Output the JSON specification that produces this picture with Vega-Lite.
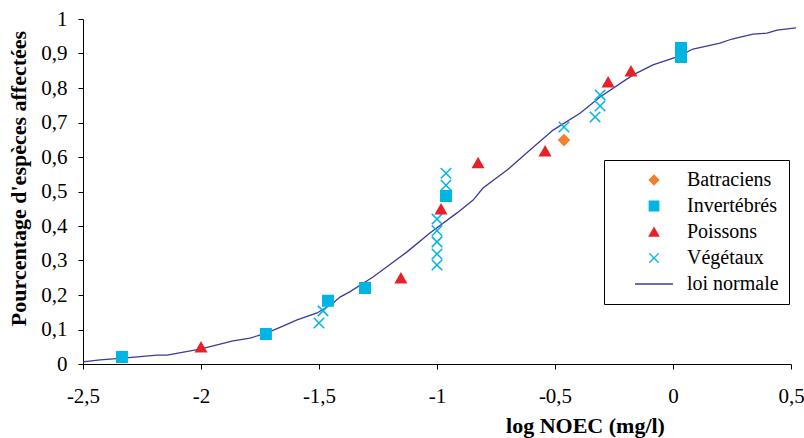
{
  "$schema": "https://vega.github.io/schema/vega-lite/v6.json",
  "width": 708,
  "height": 345,
  "autosize": "none",
  "padding": {"left": 83, "top": 19, "right": 13, "bottom": 74},
  "background": "white",
  "config": {
    "view": {"stroke": null},
    "font": "Liberation Serif",
    "axis": {
      "grid": false,
      "domainColor": "black",
      "tickColor": "black",
      "domainWidth": 1,
      "tickWidth": 1,
      "tickSize": 5,
      "labelFont": "Liberation Serif",
      "labelFontSize": 21,
      "labelColor": "black",
      "titleFont": "Liberation Serif",
      "titleFontSize": 22,
      "titleFontWeight": "bold",
      "titleColor": "black"
    },
    "legend": {
      "labelFont": "Liberation Serif",
      "labelFontSize": 20,
      "labelColor": "black"
    }
  },
  "datasets": {
    "points": [
      {"x": -2.335, "y": 0.020, "serie": "Invertébrés"},
      {"x": -2.0, "y": 0.049, "serie": "Poissons"},
      {"x": -1.725, "y": 0.087, "serie": "Invertébrés"},
      {"x": -1.5, "y": 0.119, "serie": "Végétaux"},
      {"x": -1.483, "y": 0.154, "serie": "Végétaux"},
      {"x": -1.462, "y": 0.183, "serie": "Invertébrés"},
      {"x": -1.305, "y": 0.220, "serie": "Invertébrés"},
      {"x": -1.153, "y": 0.249, "serie": "Poissons"},
      {"x": -1.0, "y": 0.287, "serie": "Végétaux"},
      {"x": -1.0, "y": 0.319, "serie": "Végétaux"},
      {"x": -1.0, "y": 0.354, "serie": "Végétaux"},
      {"x": -1.0, "y": 0.386, "serie": "Végétaux"},
      {"x": -1.0, "y": 0.420, "serie": "Végétaux"},
      {"x": -0.983, "y": 0.449, "serie": "Poissons"},
      {"x": -0.962, "y": 0.487, "serie": "Invertébrés"},
      {"x": -0.962, "y": 0.518, "serie": "Végétaux"},
      {"x": -0.962, "y": 0.553, "serie": "Végétaux"},
      {"x": -0.826, "y": 0.583, "serie": "Poissons"},
      {"x": -0.542, "y": 0.617, "serie": "Poissons"},
      {"x": -0.462, "y": 0.649, "serie": "Batraciens"},
      {"x": -0.462, "y": 0.687, "serie": "Végétaux"},
      {"x": -0.33, "y": 0.716, "serie": "Végétaux"},
      {"x": -0.309, "y": 0.748, "serie": "Végétaux"},
      {"x": -0.309, "y": 0.780, "serie": "Végétaux"},
      {"x": -0.275, "y": 0.817, "serie": "Poissons"},
      {"x": -0.178, "y": 0.849, "serie": "Poissons"},
      {"x": 0.034, "y": 0.890, "serie": "Invertébrés"},
      {"x": 0.034, "y": 0.916, "serie": "Invertébrés"}
    ],
    "curve": [
      {"x": -2.5, "y": 0.006},
      {"x": -2.428, "y": 0.012},
      {"x": -2.33, "y": 0.017},
      {"x": -2.186, "y": 0.026},
      {"x": -2.144, "y": 0.026},
      {"x": -2.004, "y": 0.043},
      {"x": -1.864, "y": 0.067},
      {"x": -1.792, "y": 0.075},
      {"x": -1.72, "y": 0.09},
      {"x": -1.653, "y": 0.11},
      {"x": -1.593, "y": 0.128},
      {"x": -1.508, "y": 0.148},
      {"x": -1.44, "y": 0.177},
      {"x": -1.411, "y": 0.194},
      {"x": -1.37, "y": 0.209},
      {"x": -1.271, "y": 0.252},
      {"x": -1.127, "y": 0.325},
      {"x": -1.03, "y": 0.38},
      {"x": -0.915, "y": 0.438},
      {"x": -0.847, "y": 0.475},
      {"x": -0.805, "y": 0.51},
      {"x": -0.703, "y": 0.562},
      {"x": -0.606, "y": 0.62},
      {"x": -0.508, "y": 0.678},
      {"x": -0.394, "y": 0.727},
      {"x": -0.309, "y": 0.774},
      {"x": -0.169, "y": 0.838},
      {"x": -0.085, "y": 0.867},
      {"x": 0.017, "y": 0.89},
      {"x": 0.085, "y": 0.913},
      {"x": 0.199, "y": 0.93},
      {"x": 0.25, "y": 0.942},
      {"x": 0.339, "y": 0.956},
      {"x": 0.398, "y": 0.959},
      {"x": 0.441, "y": 0.968},
      {"x": 0.521, "y": 0.974}
    ]
  },
  "encoding": {
    "x": {
      "field": "x",
      "type": "quantitative",
      "scale": {"domain": [-2.5, 0.5], "nice": false, "zero": false},
      "axis": {
        "title": "log NOEC (mg/l)",
        "values": [-2.5, -2, -1.5, -1, -0.5, 0, 0.5],
        "labelExpr": "replace(toString(datum.value), '.', ',')",
        "labelPadding": 16,
        "labelFlush": false,
        "labelOverlap": false,
        "titleX": 502,
        "titleY": 68,
        "titleAlign": "center",
        "titleBaseline": "alphabetic"
      }
    },
    "y": {
      "field": "y",
      "type": "quantitative",
      "scale": {"domain": [0, 1], "nice": false},
      "axis": {
        "title": "Pourcentage d'espèces affectées",
        "values": [0, 0.1, 0.2, 0.3, 0.4, 0.5, 0.6, 0.7, 0.8, 0.9, 1],
        "labelExpr": "replace(toString(datum.value), '.', ',')",
        "labelPadding": 11,
        "labelFlush": false,
        "labelOverlap": false,
        "titleX": -58,
        "titleY": 159,
        "titleAngle": -90,
        "titleAlign": "center",
        "titleBaseline": "alphabetic"
      }
    }
  },
  "layer": [
    {
      "data": {"name": "curve"},
      "mark": {"type": "line", "color": "#3b3b98", "strokeWidth": 1.3, "clip": false},
      "encoding": {}
    },
    {
      "data": {"name": "points"},
      "mark": {"type": "point", "size": 110, "strokeWidth": 1.5, "opacity": 1, "filled": false},
      "encoding": {
        "shape": {
          "field": "serie",
          "type": "nominal",
          "scale": {
            "domain": ["Batraciens", "Invertébrés", "Poissons", "Végétaux", "loi normale"],
            "range": ["diamond", "square", "triangle-up", "M-1,-1L1,1M-1,1L1,-1", "M-4,0L4,0"]
          },
          "legend": {
            "title": null,
            "orient": "none",
            "legendX": 521,
            "legendY": 141,
            "padding": 10,
            "symbolOffset": 30,
            "labelOffset": 23,
            "rowPadding": 6,
            "symbolSize": 90,
            "symbolStrokeWidth": 1.3,
            "strokeColor": "black",
            "fillColor": "white",
            "labelFont": "Liberation Serif",
            "labelFontSize": 20,
            "labelExpr": "datum.label + '\u00a0\u00a0\u00a0'"
          }
        },
        "fill": {
          "field": "serie",
          "type": "nominal",
          "scale": {
            "domain": ["Batraciens", "Invertébrés", "Poissons", "Végétaux", "loi normale"],
            "range": ["#f0822d", "#00b5e2", "#e8202a", "transparent", "transparent"]
          },
          "legend": {
            "title": null,
            "orient": "none",
            "legendX": 521,
            "legendY": 141,
            "padding": 10,
            "symbolOffset": 30,
            "labelOffset": 23,
            "rowPadding": 6,
            "symbolSize": 90,
            "symbolStrokeWidth": 1.3,
            "strokeColor": "black",
            "fillColor": "white",
            "labelFont": "Liberation Serif",
            "labelFontSize": 20,
            "labelExpr": "datum.label + '\u00a0\u00a0\u00a0'"
          }
        },
        "stroke": {
          "field": "serie",
          "type": "nominal",
          "scale": {
            "domain": ["Batraciens", "Invertébrés", "Poissons", "Végétaux", "loi normale"],
            "range": ["#f0822d", "#00b5e2", "#e8202a", "#00b5e2", "#3b3b98"]
          },
          "legend": {
            "title": null,
            "orient": "none",
            "legendX": 521,
            "legendY": 141,
            "padding": 10,
            "symbolOffset": 30,
            "labelOffset": 23,
            "rowPadding": 6,
            "symbolSize": 90,
            "symbolStrokeWidth": 1.3,
            "strokeColor": "black",
            "fillColor": "white",
            "labelFont": "Liberation Serif",
            "labelFontSize": 20,
            "labelExpr": "datum.label + '\u00a0\u00a0\u00a0'"
          }
        }
      }
    }
  ]
}
